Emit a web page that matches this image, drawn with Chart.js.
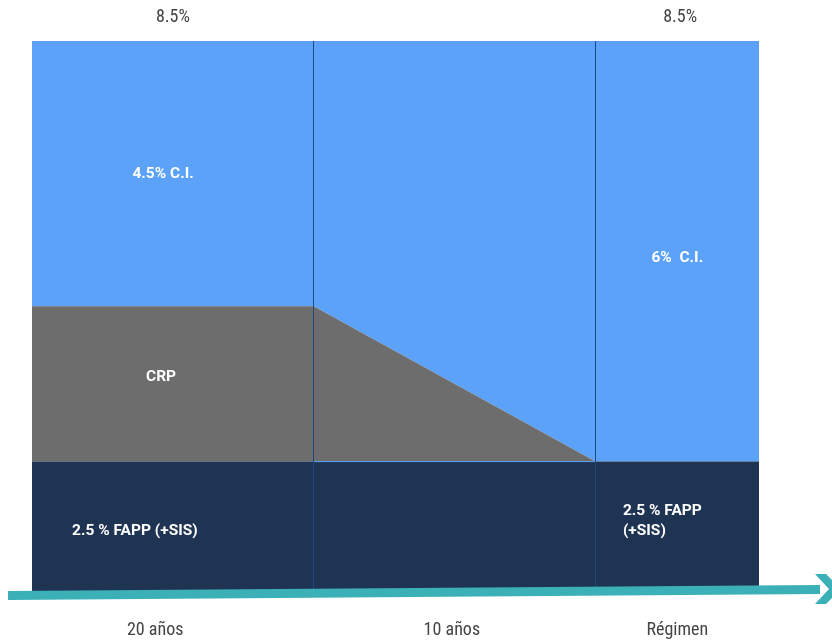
<!DOCTYPE html>
<html>
<head>
<meta charset="utf-8">
<script src="https://cdn.jsdelivr.net/npm/chart.js@4"></script>
<style>
  body { margin: 0; background: #fff; }
  canvas { display: block; }
</style>
</head>
<body>
<canvas id="aportes_chart" width="832" height="641"></canvas>
<script>
// Tramos del régimen (eje x) y tasas por componente
var tramos = [0, 1, 2, 2.58];
var fapp = [2.0, 2.0, 2.0, 2.0];
var crp = [2.4, 2.4, 0, 0];
var ci = [4.1, 4.1, 6.5, 6.5];
var periodos = ["20 años", "10 años", "Régimen"];
var totales = ["8.5%", "", "8.5%"];

function puntos(vals) {
  return tramos.map(function (x, i) { return { x: x, y: vals[i] }; });
}

// Textos dentro de las áreas (coordenadas en unidades de los ejes)
var textos = [
  { lines: ["4.5% C.I."], x: 0.465, y: 6.45, align: "center" },
  { lines: ["CRP"], x: 0.458, y: 3.3, align: "center" },
  { lines: ["2.5 % FAPP (+SIS)"], x: 0.142, y: 0.92, align: "left" },
  { lines: ["6%  C.I."], x: 2.29, y: 5.15, align: "center" },
  { lines: ["2.5 % FAPP", "(+SIS)"], x: 2.097, y: 1.23, align: "left" }
];

var decoracion = {
  id: "decoracion",
  afterDatasetsDraw: function (chart) {
    var ctx = chart.ctx, xs = chart.scales.x, ys = chart.scales.y, a = chart.chartArea;
    ctx.save();
    // separadores de tramos
    ctx.strokeStyle = "#1d4a80";
    ctx.lineWidth = 1;
    [1, 2].forEach(function (v) {
      var px = Math.round(xs.getPixelForValue(v)) - 0.5;
      ctx.beginPath();
      ctx.moveTo(px, a.top);
      ctx.lineTo(px, a.bottom);
      ctx.stroke();
    });
    // textos blancos
    ctx.fillStyle = "#ffffff";
    ctx.font = "bold 15.5px Roboto, 'DejaVu Sans', sans-serif";
    ctx.textBaseline = "middle";
    textos.forEach(function (t) {
      ctx.textAlign = t.align;
      var px = xs.getPixelForValue(t.x), py = ys.getPixelForValue(t.y);
      t.lines.forEach(function (l, k) { ctx.fillText(l, px, py + k * 20); });
    });
    ctx.restore();
  },
  afterDraw: function (chart) {
    var ctx = chart.ctx, xs = chart.scales.x;
    ctx.save();
    // flecha del tiempo
    ctx.fillStyle = "#3cb0b7";
    ctx.beginPath();
    ctx.moveTo(8, 591); ctx.lineTo(820, 585); ctx.lineTo(820, 594); ctx.lineTo(8, 600);
    ctx.closePath();
    ctx.fill();
    ctx.beginPath();
    ctx.moveTo(815, 574); ctx.lineTo(826, 574); ctx.lineTo(841, 589);
    ctx.lineTo(826, 604); ctx.lineTo(815, 604); ctx.lineTo(829, 589);
    ctx.closePath();
    ctx.fill();
    // etiquetas superiores e inferiores
    ctx.fillStyle = "#444444";
    ctx.font = "18px 'Liberation Sans Narrow', 'Roboto Condensed', Roboto, sans-serif";
    ctx.textAlign = "center";
    ctx.textBaseline = "middle";
    var centros = [0.437, 1.49, 2.29];
    var centrosTop = [0.5, 1.5, 2.3];
    periodos.forEach(function (p, i) {
      ctx.fillText(p, xs.getPixelForValue(centros[i]), 630);
      if (totales[i]) ctx.fillText(totales[i], xs.getPixelForValue(centrosTop[i]), 17);
    });
    ctx.restore();
  }
};

var ctx = document.getElementById("aportes_chart");
var chart = new Chart(ctx, {
  type: "line",
  data: {
    datasets: [
      {
        label: "FAPP",
        data: puntos(fapp),
        backgroundColor: "#1f3452",
        fill: "origin",
        borderWidth: 1,
        segment: {
          borderColor: function (c) { return c.p0DataIndex === 1 ? "#5ba2f5" : "rgba(0,0,0,0)"; }
        },
        pointRadius: 0,
        tension: 0
      },
      {
        label: "CRP",
        data: puntos(crp),
        backgroundColor: "#6c6d6c",
        borderColor: "rgba(0,0,0,0)",
        borderWidth: 0,
        fill: "-1",
        pointRadius: 0,
        tension: 0
      },
      {
        label: "C.I.",
        data: puntos(ci),
        backgroundColor: "#5ba2f8",
        borderColor: "rgba(0,0,0,0)",
        borderWidth: 0,
        fill: "-1",
        pointRadius: 0,
        tension: 0
      }
    ]
  },
  options: {
    animation: false,
    responsive: false,
    maintainAspectRatio: false,
    layout: { padding: { left: 32, right: 73, top: 41, bottom: 50 } },
    plugins: { legend: { display: false }, tooltip: { enabled: false } },
    scales: {
      x: { type: "linear", min: 0, max: 2.58, display: false },
      y: { stacked: true, min: 0, max: 8.5, display: false }
    }
  },
  plugins: [decoracion]
});
</script>
</body>
</html>
